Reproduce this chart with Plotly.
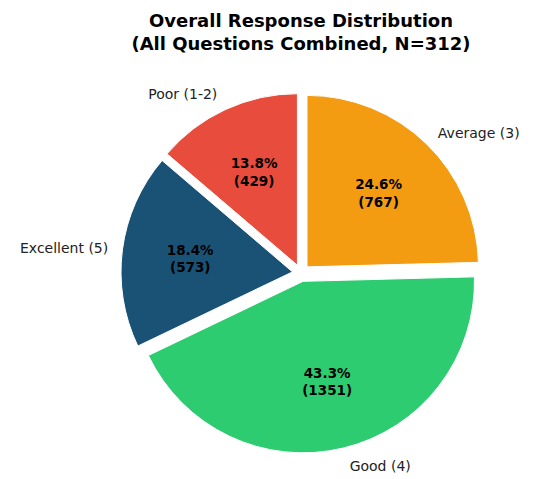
import math
import plotly.graph_objects as go

labels = ["Average (3)", "Good (4)", "Excellent (5)", "Poor (1-2)"]
counts = [767, 1351, 573, 429]
colors = ["#f39c12", "#2ecc71", "#1a5276", "#e74c3c"]

EXPLODE = 0.05        # radial offset of every wedge (fraction of radius)
PCT_DIST = 0.60       # where the percentage text sits (fraction of radius)
LABEL_PULL = 0.11     # pushes the outer category labels a bit further out

W, H = 534, 479
CX, CY, R = 301.0, 273.0, 171.5   # pie centre / radius in pixels

total = sum(counts)
inside_text = [f"{c / total * 100:.1f}%<br>({c})" for c in counts]


def dom(radius, max_pull):
    half = radius * (1 + max_pull)
    return dict(x=[(CX - half) / W, (CX + half) / W],
                y=[1 - (CY + half) / H, 1 - (CY - half) / H])


common = dict(labels=labels, values=counts, sort=False, direction="clockwise",
              rotation=0, showlegend=False, hoverinfo="skip", automargin=False)

fig = go.Figure()
# coloured wedges
fig.add_trace(go.Pie(
    **common, pull=[EXPLODE] * len(counts), domain=dom(R, EXPLODE),
    marker=dict(colors=colors, line=dict(color="white", width=1)),
    textinfo="none",
))

# percentage / count text, one transparent helper pie per wedge so that the
# text centre lands at PCT_DIST of the radius (matplotlib-style placement)
for i, c in enumerate(counts):
    half_angle = math.pi * c / total
    k = 1 / (1 + math.sin(half_angle))  # plotly puts text at k*r from centre
    target = PCT_DIST + EXPLODE
    if target - k >= 0:
        r_i, p_i = R, target - k
    else:
        r_i, p_i = R * target / k, 0.0
    pulls = [0.0] * len(counts)
    pulls[i] = p_i
    txt = [""] * len(counts)
    txt[i] = inside_text[i]
    fig.add_trace(go.Pie(
        **common, pull=pulls, domain=dom(r_i, p_i),
        marker=dict(colors=["rgba(0,0,0,0)"] * len(counts), line=dict(width=0)),
        text=txt, textinfo="text", textposition="inside",
        insidetextorientation="horizontal",
        textfont=dict(family="DejaVu Sans", size=13.5, color="black", weight="bold"),
    ))

# outer category labels
fig.add_trace(go.Pie(
    **common, pull=[LABEL_PULL] * len(counts), domain=dom(R, LABEL_PULL),
    marker=dict(colors=["rgba(0,0,0,0)"] * len(counts), line=dict(width=0)),
    textinfo="label", textposition="outside",
    textfont=dict(family="DejaVu Sans", size=14, color="#222222"),
))

fig.update_layout(
    width=W, height=H, autosize=False,
    margin=dict(l=0, r=0, t=0, b=0, pad=0, autoexpand=False),
    paper_bgcolor="white", plot_bgcolor="white",
    title=dict(
        text="<b>Overall Response Distribution<br>(All Questions Combined, N=312)</b>",
        x=CX / W, xanchor="center", y=1 - 27 / H, yanchor="middle",
        font=dict(family="DejaVu Sans", size=18, color="black"),
    ),
)
fig.write_html("out.html")
